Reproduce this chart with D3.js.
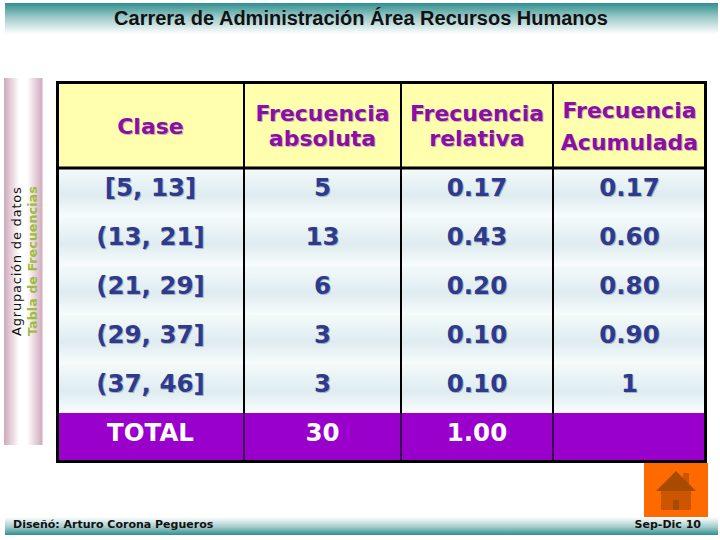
<!DOCTYPE html>
<html>
<head>
<meta charset="utf-8">
<script src="https://cdn.jsdelivr.net/npm/d3@7"></script>
<style>
html, body { margin: 0; padding: 0; background: #fff; }
svg { display: block; }
</style>
</head>
<body>
<div id="chart"></div>
<script>
const title = "Carrera de Administración Área Recursos Humanos";
const side_lines = ["Agrupación de datos", "Tabla de Frecuencias"];
const footer_left = "Diseñó: Arturo Corona Pegueros";
const footer_right = "Sep-Dic 10";

const columns = ["clase", "absoluta", "relativa", "acumulada"];
const headers = [["Clase"], ["Frecuencia", "absoluta"], ["Frecuencia", "relativa"], ["Frecuencia", "Acumulada"]];
const clases = ["[5, 13]", "(13, 21]", "(21, 29]", "(29, 37]", "(37, 46]"];
const absoluta = ["5", "13", "6", "3", "3"];
const relativa = ["0.17", "0.43", "0.20", "0.10", "0.10"];
const acumulada = ["0.17", "0.60", "0.80", "0.90", "1"];
const totals = ["TOTAL", "30", "1.00", ""];

const width = 720, height = 540;
const font = "Verdana, 'DejaVu Sans', sans-serif";

const svg = d3.select("#chart").append("svg")
    .attr("width", width)
    .attr("height", height);
const defs = svg.append("defs");

function gradient(id, stops, vertical) {
    const g = defs.append("linearGradient").attr("id", id)
        .attr("x1", 0).attr("y1", 0)
        .attr("x2", vertical ? 0 : 1).attr("y2", vertical ? 1 : 0);
    stops.forEach(s => g.append("stop").attr("offset", s[0]).attr("stop-color", s[1]));
}
gradient("top_band", [[0, "#2f8f8f"], [0.45, "#9cc8c8"], [1, "#ffffff"]], true);
gradient("bottom_band", [[0, "#ffffff"], [0.55, "#a5cccc"], [1, "#2f8f8f"]], true);
gradient("side_band", [[0, "#cfa9bb"], [0.4, "#ffffff"], [0.6, "#ffffff"], [1, "#cfa9bb"]], false);
gradient("row_band", [[0, "#f4fafa"], [0.55, "#deecf0"], [1, "#f8fcfc"]], true);

// bands top and bottom
svg.append("rect").attr("x", 5).attr("y", 3).attr("width", 713).attr("height", 31).attr("fill", "url(#top_band)");
svg.append("rect").attr("x", 5).attr("y", 517).attr("width", 713).attr("height", 18).attr("fill", "url(#bottom_band)");
svg.append("rect").attr("x", 4).attr("y", 78).attr("width", 38.5).attr("height", 367).attr("fill", "url(#side_band)");

svg.append("text")
    .attr("x", 361).attr("y", 25)
    .attr("text-anchor", "middle")
    .attr("font-family", "'Liberation Sans', Arial, sans-serif")
    .attr("font-size", 20).attr("font-weight", "bold")
    .attr("fill", "#111")
    .text(title);

// side text
const side = svg.append("g").attr("transform", "translate(0,336) rotate(-90)");
side.selectAll("text").data(side_lines).enter().append("text")
    .attr("y", (d, i) => i == 0 ? 21 : 36.5)
    .attr("font-family", font)
    .attr("font-size", (d, i) => i == 0 ? 13 : 12.75)
    .attr("font-weight", (d, i) => i == 0 ? "normal" : "bold")
    .attr("letter-spacing", (d, i) => i == 0 ? 0.8 : 0)
    .attr("fill", (d, i) => i == 0 ? "#111" : "#a0bc3e")
    .text(d => d);

// table scales
const x = d3.scaleOrdinal().domain(columns).range([57, 244, 401, 553]);
const x_end = d3.scaleOrdinal().domain(columns).range([244, 401, 553, 706]);
const row_ids = clases.map((d, i) => i);
const y = d3.scaleBand().domain(row_ids).range([168, 413]);

const table = svg.append("g");

table.selectAll(".head_cell").data(columns).enter().append("rect")
    .attr("class", "head_cell")
    .attr("x", d => x(d)).attr("y", 82)
    .attr("width", d => x_end(d) - x(d)).attr("height", 86)
    .attr("fill", "#ffffad");

table.selectAll(".row_bg").data(row_ids).enter().append("rect")
    .attr("class", "row_bg")
    .attr("x", 57).attr("y", d => y(d))
    .attr("width", 649).attr("height", y.bandwidth())
    .attr("fill", "url(#row_band)");

table.append("rect")
    .attr("x", 57).attr("y", 413)
    .attr("width", 649).attr("height", 49)
    .attr("fill", "#9900cc");

function cell_text(txt, cx, cy, size, color, shadow) {
    if (shadow) {
        table.append("text")
            .attr("x", cx + 1).attr("y", cy + 1)
            .attr("text-anchor", "middle")
            .attr("font-family", font).attr("font-size", size).attr("font-weight", "bold")
            .attr("fill", shadow)
            .text(txt);
    }
    table.append("text")
        .attr("x", cx).attr("y", cy)
        .attr("text-anchor", "middle")
        .attr("font-family", font).attr("font-size", size).attr("font-weight", "bold")
        .attr("fill", color)
        .text(txt);
}

// header text, last column sits a bit apart like the picture
const head_y = [[134], [121, 146], [121, 146], [118, 150]];
columns.forEach((c, i) => {
    const cx = (x(c) + x_end(c)) / 2;
    headers[i].forEach((line, j) => {
        cell_text(line, cx, head_y[i][j], 22, "#8b0ea6", "#c9b8a8");
    });
});

// body rows
const values = [clases, absoluta, relativa, acumulada];
columns.forEach((c, i) => {
    const cx = (x(c) + x_end(c)) / 2;
    values[i].forEach((v, r) => {
        cell_text(v, cx, y(r) + 28, 24.5, "#2e3a8c", "#aab2c0");
    });
    cell_text(totals[i], cx, 441, 24.5, "#ffffff", null);
});

// grid lines
const lines = table.append("g").attr("stroke", "#000");
lines.selectAll(".v").data([244, 401, 553]).enter().append("line")
    .attr("x1", d => d).attr("x2", d => d).attr("y1", 82).attr("y2", 413)
    .attr("stroke-width", 2);
table.append("g").attr("stroke", "#3a0050").selectAll(".v2").data([244, 401, 553]).enter().append("line")
    .attr("x1", d => d).attr("x2", d => d).attr("y1", 413).attr("y2", 462)
    .attr("stroke-width", 2);
lines.append("line").attr("x1", 57).attr("x2", 706).attr("y1", 168).attr("y2", 168).attr("stroke-width", 3);
table.append("rect")
    .attr("x", 57.5).attr("y", 82.5).attr("width", 648).attr("height", 379)
    .attr("fill", "none").attr("stroke", "#000").attr("stroke-width", 3);

// home button
const home = svg.append("g");
home.append("rect").attr("x", 644).attr("y", 463).attr("width", 64).attr("height", 54).attr("fill", "#ff6a00");
home.append("rect").attr("x", 683).attr("y", 473).attr("width", 6).attr("height", 12).attr("fill", "#cc5500");
home.append("path").attr("d", "M676 471 L696 491 H656 Z").attr("fill", "#a64b00");
home.append("rect").attr("x", 661).attr("y", 491).attr("width", 30).attr("height", 19).attr("fill", "#cc5500");
home.append("rect").attr("x", 673).attr("y", 500).attr("width", 6).attr("height", 10).attr("fill", "#a64b00");

svg.append("text").attr("x", 13).attr("y", 528)
    .attr("font-family", font).attr("font-size", 11).attr("font-weight", "bold")
    .attr("fill", "#111")
    .text(footer_left);
svg.append("text").attr("x", 701).attr("y", 528)
    .attr("text-anchor", "end")
    .attr("font-family", font).attr("font-size", 11).attr("font-weight", "bold")
    .attr("fill", "#111")
    .text(footer_right);
</script>
</body>
</html>
